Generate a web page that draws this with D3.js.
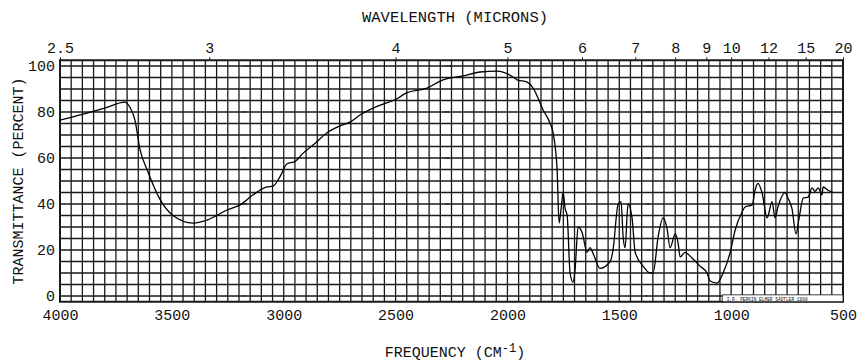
<!DOCTYPE html>
<html>
<head>
<meta charset="utf-8">
<script src="https://cdn.jsdelivr.net/npm/d3@7"></script>
<style>
  body { margin: 0; background: #fff; }
  svg text { font-family: "Liberation Mono", "DejaVu Sans Mono", monospace; fill: #111; }
</style>
</head>
<body>
<div id="chart-area"></div>
<script>
const WIDTH = 860;
const HEIGHT = 364;

// spectrum (cm-1 / % transmittance)
const wavenumber = [4000, 3900, 3800, 3709, 3687, 3665, 3642, 3611, 3553, 3495, 3405, 3343, 3253, 3195, 3137, 3075, 3048, 3016,
    2985, 2949, 2914, 2869, 2806, 2748, 2704, 2659, 2569, 2489, 2458, 2359, 2288, 2198, 2122, 2046,
    1988, 1957, 1912, 1885, 1841, 1809, 1796, 1778, 1769, 1760, 1751, 1742, 1733, 1720, 1707, 1698,
    1684, 1666, 1644, 1631, 1617, 1586, 1541, 1528, 1505, 1492, 1483, 1474, 1461, 1443, 1429, 1394,
    1362, 1349, 1326, 1304, 1286, 1273, 1250, 1237, 1228, 1206, 1175, 1139, 1108, 1094, 1063, 1036,
    1005, 982, 951, 938, 906, 893, 880, 862, 839, 817, 804, 790, 759, 746, 728, 710,
    696, 678, 656, 638, 625, 611, 594, 589, 567, 544];
const transmittance = [76.5, 79, 81.7, 84.3, 82, 76.5, 63.5, 55, 42, 35, 31.7, 33, 37.4, 39.6, 44, 47.4, 47.8, 52,
    57.5, 58.5, 62, 65.6, 71, 74, 75.6, 78.7, 83, 86, 88, 90.4, 94, 95.7, 97.4, 97.8,
    96, 94, 93, 90.4, 81, 75, 71, 55, 31.7, 38, 45, 38, 35, 10, 6, 11,
    30, 27.5, 19, 21, 18.5, 12, 15, 20, 40, 41, 26, 21, 40, 34, 19, 13,
    10, 10, 26, 34, 29, 21, 27, 23, 17, 19, 16.5, 13, 10, 6.5, 5.6, 10,
    18.7, 28.7, 36.5, 38.7, 39.6, 46, 49, 45, 34, 41, 34, 39, 45, 42.6, 38, 27,
    34, 42.6, 43, 47, 45.5, 47, 44, 47.4, 46, 45];

const freqTicks = [4000, 3500, 3000, 2500, 2000, 1500, 1000, 500];
const micronTicks = [2.5, 3, 4, 5, 6, 7, 8, 9, 10, 12, 15, 20];
const pctTicks = [0, 20, 40, 60, 80, 100];
// little printed marks on the chart paper
const paperMarkFreqs = [3195, 2292, 1394, 594];

const x = d3.scaleLinear().domain([4000, 500]).range([60, 843]);
const y = d3.scaleLinear().domain([0, 100]).range([296, 66]);

const svg = d3.select('#chart-area').append('svg')
    .attr("width", WIDTH)
    .attr("height", HEIGHT)
    .attr("viewBox", [0, 0, WIDTH, HEIGHT]);

svg.append("rect").attr("width", WIDTH).attr("height", HEIGHT).attr("fill", "#fff");

const grid = svg.append("g").attr("stroke", "#1a1a1a");

// vertical grid every 50 cm-1
grid.selectAll("line.v")
    .data(d3.range(500, 4001, 50))
    .join("line")
    .attr("class", "v")
    .attr("x1", d => x(d)).attr("x2", d => x(d))
    .attr("y1", y(102.5)).attr("y2", y(-2.5))
    .attr("stroke-width", 1.3);

// horizontal grid every 5 %
grid.selectAll("line.h")
    .data(d3.range(0, 101, 5))
    .join("line")
    .attr("class", "h")
    .attr("x1", x(4000)).attr("x2", x(500))
    .attr("y1", d => y(d)).attr("y2", d => y(d))
    .attr("stroke-width", 1.3);

grid.append("rect")
    .attr("x", x(4000)).attr("y", y(102.5))
    .attr("width", x(500) - x(4000)).attr("height", y(-2.5) - y(102.5))
    .attr("fill", "none").attr("stroke-width", 2);

// tiny scale marks printed on the paper
paperMarkFreqs.forEach(f => {
    svg.selectAll(null)
        .data(pctTicks)
        .join("text")
        .attr("x", x(f) + 2)
        .attr("y", d => y(d) + 1)
        .attr("font-size", 4)
        .text(d => d);
});

// label box in the corner
svg.append("rect")
    .attr("x", x(1040)).attr("y", y(0.5))
    .attr("width", x(500) - x(1040)).attr("height", y(-2.5) - y(0.5))
    .attr("fill", "#fff").attr("stroke", "#111").attr("stroke-width", 0.8);
svg.append("text")
    .attr("x", x(1020)).attr("y", y(-2))
    .attr("font-size", 4.5)
    .text("I.R. PERKIN ELMER          SADTLER  1968");

// spectrum
const line = d3.line()
    .x((d, i) => x(wavenumber[i]))
    .y(d => y(d))
    .curve(d3.curveMonotoneX);

svg.append("path")
    .datum(transmittance)
    .attr("fill", "none")
    .attr("stroke", "#000")
    .attr("stroke-width", 1.3)
    .attr("d", line);

// bottom axis (frequency)
const bottomAxis = svg.append("g")
    .attr("transform", `translate(0,${y(-2.5)})`)
    .call(d3.axisBottom(x).tickValues(freqTicks).tickSize(0).tickPadding(8).tickFormat(d3.format("d")));
bottomAxis.select(".domain").remove();
bottomAxis.selectAll("text").attr("font-size", 15).attr("fill", "#111");

// left axis (percent)
const leftAxis = svg.append("g")
    .attr("transform", `translate(${x(4000)},0)`)
    .call(d3.axisLeft(y).tickValues(pctTicks).tickSize(0).tickPadding(5));
leftAxis.select(".domain").remove();
leftAxis.selectAll("text").attr("font-size", 15).attr("fill", "#111");

// top axis (wavelength in microns)
const topAxis = svg.append("g")
    .attr("transform", `translate(0,${y(102.5)})`)
    .call(d3.axisTop(x).tickValues(micronTicks.map(m => 10000 / m)).tickSize(3).tickPadding(4)
        .tickFormat((d, i) => micronTicks[i]));
topAxis.select(".domain").remove();
topAxis.selectAll("line").attr("stroke", "#222");
topAxis.selectAll("text").attr("font-size", 15).attr("fill", "#111");

// titles
svg.append("text")
    .attr("x", 455).attr("y", 22)
    .attr("text-anchor", "middle")
    .attr("font-size", 15.5)
    .text("WAVELENGTH (MICRONS)");

const freqTitle = svg.append("text")
    .attr("x", 455).attr("y", 357)
    .attr("text-anchor", "middle")
    .attr("font-size", 15);
freqTitle.append("tspan").text("FREQUENCY (CM");
freqTitle.append("tspan").attr("dy", -5).attr("font-size", 12).text("-1");
freqTitle.append("tspan").attr("dy", 5).text(")");

svg.append("text")
    .attr("transform", `translate(23,${(y(100) + y(0)) / 2}) rotate(-90)`)
    .attr("text-anchor", "middle")
    .attr("font-size", 15)
    .text("TRANSMITTANCE (PERCENT)");
</script>
</body>
</html>
